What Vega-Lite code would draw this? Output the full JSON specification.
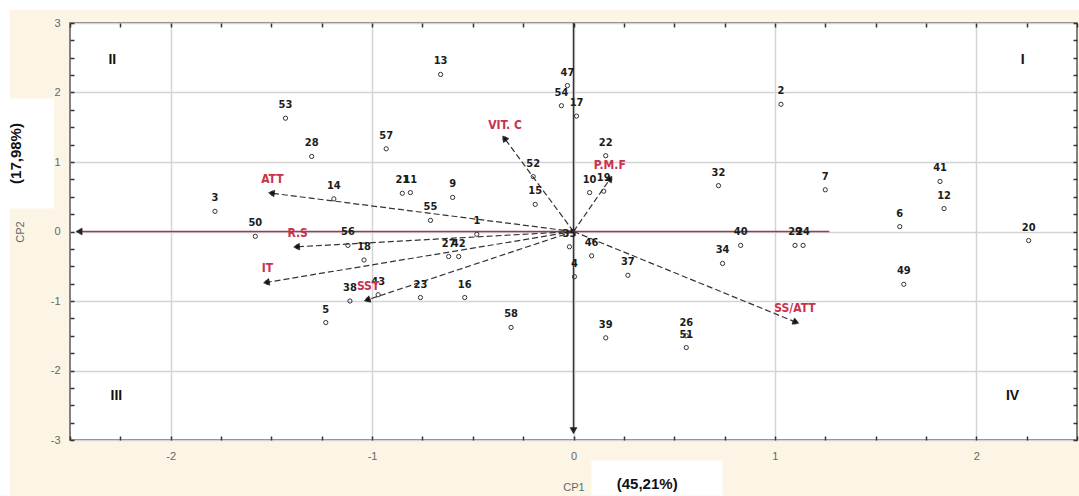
{
  "$schema": "https://vega.github.io/schema/vega-lite/v6.json",
  "width": 1007,
  "height": 417,
  "autosize": {"type": "none"},
  "padding": {"left": 70, "top": 23, "right": 2, "bottom": 56},
  "background": "#FCF5E6",
  "config": {
    "view": {"fill": "white", "stroke": "#5a5a5a", "strokeWidth": 1.5},
    "axis": {"domain": false}
  },
  "datasets": {
    "obs": [
      {"id": "53", "x": -1.43, "y": 1.63},
      {"id": "28", "x": -1.30, "y": 1.08},
      {"id": "3", "x": -1.78, "y": 0.29},
      {"id": "50", "x": -1.58, "y": -0.07},
      {"id": "14", "x": -1.19, "y": 0.47},
      {"id": "57", "x": -0.93, "y": 1.19},
      {"id": "21", "x": -0.85, "y": 0.55},
      {"id": "11", "x": -0.81, "y": 0.56},
      {"id": "9", "x": -0.60, "y": 0.49},
      {"id": "55", "x": -0.71, "y": 0.16},
      {"id": "13", "x": -0.66, "y": 2.26},
      {"id": "52", "x": -0.20, "y": 0.79},
      {"id": "15", "x": -0.19, "y": 0.39},
      {"id": "47", "x": -0.03, "y": 2.10},
      {"id": "54", "x": -0.06, "y": 1.81},
      {"id": "17", "x": 0.015, "y": 1.66},
      {"id": "22", "x": 0.16, "y": 1.09},
      {"id": "10", "x": 0.08, "y": 0.56},
      {"id": "19", "x": 0.15, "y": 0.58},
      {"id": "2", "x": 1.03, "y": 1.83},
      {"id": "32", "x": 0.72, "y": 0.66},
      {"id": "7", "x": 1.25, "y": 0.60},
      {"id": "41", "x": 1.82, "y": 0.72},
      {"id": "12", "x": 1.84, "y": 0.33},
      {"id": "6", "x": 1.62, "y": 0.07},
      {"id": "20", "x": 2.26, "y": -0.13},
      {"id": "40", "x": 0.83, "y": -0.20},
      {"id": "29", "x": 1.10, "y": -0.20},
      {"id": "24", "x": 1.14, "y": -0.20},
      {"id": "34", "x": 0.74, "y": -0.46},
      {"id": "37", "x": 0.27, "y": -0.63},
      {"id": "49", "x": 1.64, "y": -0.76},
      {"id": "39", "x": 0.16, "y": -1.53},
      {"id": "26", "x": 0.56, "y": -1.50},
      {"id": "51", "x": 0.56, "y": -1.67},
      {"id": "58", "x": -0.31, "y": -1.38},
      {"id": "16", "x": -0.54, "y": -0.95},
      {"id": "23", "x": -0.76, "y": -0.95},
      {"id": "38", "x": -1.11, "y": -1.0},
      {"id": "43", "x": -0.97, "y": -0.91},
      {"id": "5", "x": -1.23, "y": -1.31},
      {"id": "18", "x": -1.04, "y": -0.41},
      {"id": "56", "x": -1.12, "y": -0.20},
      {"id": "27", "x": -0.62, "y": -0.36},
      {"id": "42", "x": -0.57, "y": -0.36},
      {"id": "35", "x": -0.02, "y": -0.22},
      {"id": "46", "x": 0.09, "y": -0.35},
      {"id": "4", "x": 0.005, "y": -0.65},
      {"id": "1", "x": -0.48, "y": -0.04}
    ],
    "vars": [
      {"name": "ATT", "x": -1.495, "y": 0.55},
      {"name": "R.S", "x": -1.37, "y": -0.22},
      {"name": "IT", "x": -1.52, "y": -0.73},
      {"name": "SST", "x": -1.02, "y": -0.98},
      {"name": "VIT. C", "x": -0.34, "y": 1.33},
      {"name": "P.M.F", "x": 0.18, "y": 0.75},
      {"name": "SS/ATT", "x": 1.10, "y": -1.30}
    ],
    "axheads": [
      {"x": -2.45, "y": 0},
      {"x": 0, "y": -2.85}
    ],
    "quad": [
      {"t": "I", "x": 2.23, "y": 2.47},
      {"t": "II", "x": -2.29, "y": 2.47},
      {"t": "III", "x": -2.27, "y": -2.37},
      {"t": "IV", "x": 2.18, "y": -2.37}
    ],
    "boxes": [
      {"x1": -2.9, "x2": 2.6, "y1": 3.19, "y2": 3.4},
      {"x1": -2.9, "x2": -2.80, "y1": -3.8, "y2": 3.4},
      {"x1": -2.9, "x2": -2.579, "y1": 0.331, "y2": 1.914},
      {"x1": 0.089, "x2": 0.74, "y1": -3.8, "y2": -3.295}
    ]
  },
  "resolve": {"axis": {"x": "independent", "y": "independent"}},
  "layer": [
    {
      "data": {"name": "boxes"},
      "mark": {"type": "rect", "fill": "white"},
      "encoding": {
        "x": {"field": "x1", "type": "quantitative", "scale": {"domain": [-2.5, 2.5], "nice": false, "zero": false}, "axis": null},
        "x2": {"field": "x2"},
        "y": {"field": "y1", "type": "quantitative", "scale": {"domain": [-3, 3], "nice": false, "zero": false}, "axis": null},
        "y2": {"field": "y2"}
      }
    },
    {
      "data": {"name": "obs"},
      "mark": {"type": "point", "opacity": 0},
      "encoding": {
        "x": {"field": "x", "type": "quantitative", "axis": {
          "orient": "top", "labels": false, "title": null, "grid": false,
          "values": [-2.5,-2.25,-2,-1.75,-1.5,-1.25,-1,-0.75,-0.5,-0.25,0,0.25,0.5,0.75,1,1.25,1.5,1.75,2,2.25,2.5],
          "tickSize": -4, "tickColor": "#333", "tickWidth": 1.5
        }},
        "y": {"field": "y", "type": "quantitative", "axis": {
          "orient": "right", "labels": false, "title": null, "grid": false,
          "values": [-3,-2.75,-2.5,-2.25,-2,-1.75,-1.5,-1.25,-1,-0.75,-0.5,-0.25,0,0.25,0.5,0.75,1,1.25,1.5,1.75,2,2.25,2.5,2.75,3],
          "tickSize": -4, "tickColor": "#333", "tickWidth": 1.5
        }}
      }
    },
    {
      "data": {"values": [{"x": -2.45, "x2": 1.27, "y": 0}]},
      "mark": {"type": "rule", "color": "#8E4154", "strokeWidth": 1.6},
      "encoding": {
        "x": {"field": "x", "type": "quantitative", "axis": null},
        "x2": {"field": "x2"},
        "y": {"field": "y", "type": "quantitative", "axis": null}
      }
    },
    {
      "data": {"values": [{"x": 0, "y": 3, "y2": -2.85}]},
      "mark": {"type": "rule", "color": "#333333", "strokeWidth": 1.5},
      "encoding": {
        "x": {"field": "x", "type": "quantitative", "axis": null},
        "y": {"field": "y", "type": "quantitative", "axis": null},
        "y2": {"field": "y2"}
      }
    },
    {
      "data": {"name": "vars"},
      "transform": [{"calculate": "0", "as": "o"}],
      "mark": {"type": "rule", "color": "#333333", "strokeWidth": 1.2, "strokeDash": [6, 3]},
      "encoding": {
        "x": {"field": "o", "type": "quantitative", "axis": null},
        "y": {"field": "o", "type": "quantitative", "axis": null},
        "x2": {"field": "x"},
        "y2": {"field": "y"}
      }
    },
    {
      "data": {"name": "vars"},
      "transform": [{"calculate": "atan2(datum.x*202, datum.y*69.5)*180/PI", "as": "ang"}],
      "mark": {"type": "point", "shape": "triangle", "filled": true, "fill": "#111111", "stroke": "#111111", "strokeWidth": 0.5, "size": 45, "opacity": 1},
      "encoding": {
        "x": {"field": "x", "type": "quantitative", "axis": null},
        "y": {"field": "y", "type": "quantitative", "axis": null},
        "angle": {"field": "ang", "type": "quantitative", "scale": null}
      }
    },
    {
      "data": {"name": "axheads"},
      "transform": [{"calculate": "atan2(datum.x*202, datum.y*69.5)*180/PI", "as": "ang"}],
      "mark": {"type": "point", "shape": "triangle", "filled": true, "fill": "#222222", "stroke": "#222222", "strokeWidth": 0.5, "size": 50, "opacity": 1},
      "encoding": {
        "x": {"field": "x", "type": "quantitative", "axis": null},
        "y": {"field": "y", "type": "quantitative", "axis": null},
        "angle": {"field": "ang", "type": "quantitative", "scale": null}
      }
    },
    {
      "data": {"name": "obs"},
      "mark": {"type": "point", "filled": false, "color": "#333333", "strokeWidth": 1, "size": 18, "opacity": 1},
      "encoding": {
        "x": {"field": "x", "type": "quantitative", "axis": {
          "orient": "bottom", "title": "CP1",
          "values": [-2.5,-2.25,-2,-1.75,-1.5,-1.25,-1,-0.75,-0.5,-0.25,0,0.25,0.5,0.75,1,1.25,1.5,1.75,2,2.25,2.5],
          "labelExpr": "datum.value % 1 === 0 ? '' + datum.value : ''",
          "grid": true, "gridColor": "#d4d4d4", "gridWidth": 1.5,
          "gridOpacity": {"condition": {"test": "datum.value % 1 === 0", "value": 1}, "value": 0},
          "tickSize": -4, "tickColor": "#333", "tickWidth": 1.5,
          "labelPadding": 14, "labelFont": "Liberation Sans", "labelFontSize": 11, "labelColor": "#666",
          "titleFont": "Liberation Sans", "titleFontSize": 11, "titleFontWeight": "normal", "titleColor": "#666", "titlePadding": 20
        }},
        "y": {"field": "y", "type": "quantitative", "axis": {
          "orient": "left", "title": "CP2",
          "values": [-3,-2.75,-2.5,-2.25,-2,-1.75,-1.5,-1.25,-1,-0.75,-0.5,-0.25,0,0.25,0.5,0.75,1,1.25,1.5,1.75,2,2.25,2.5,2.75,3],
          "labelExpr": "datum.value % 1 === 0 ? '' + datum.value : ''",
          "grid": true, "gridColor": "#d4d4d4", "gridWidth": 1.5,
          "gridOpacity": {"condition": {"test": "datum.value % 1 === 0", "value": 1}, "value": 0},
          "tickSize": -4, "tickColor": "#333", "tickWidth": 1.5,
          "labelPadding": 14, "labelFont": "Liberation Sans", "labelFontSize": 11, "labelColor": "#666",
          "titleFont": "Liberation Sans", "titleFontSize": 11, "titleFontWeight": "normal", "titleColor": "#666", "titlePadding": 25
        }}
      }
    },
    {
      "data": {"name": "vars"},
      "mark": {"type": "point", "filled": false, "color": "#333333", "strokeWidth": 1, "size": 18, "opacity": 1},
      "encoding": {
        "x": {"field": "x", "type": "quantitative", "axis": null},
        "y": {"field": "y", "type": "quantitative", "axis": null}
      }
    },
    {
      "data": {"name": "obs"},
      "mark": {"type": "text", "font": "DejaVu Sans Condensed", "fontWeight": "bold", "fontSize": 11, "color": "#1c1c1c", "dy": -13, "baseline": "middle"},
      "encoding": {
        "x": {"field": "x", "type": "quantitative", "axis": null},
        "y": {"field": "y", "type": "quantitative", "axis": null},
        "text": {"field": "id"}
      }
    },
    {
      "data": {"name": "vars"},
      "mark": {"type": "text", "font": "DejaVu Sans Condensed", "fontWeight": "bold", "fontSize": 12, "color": "#C8324E", "dy": -14, "baseline": "middle"},
      "encoding": {
        "x": {"field": "x", "type": "quantitative", "axis": null},
        "y": {"field": "y", "type": "quantitative", "axis": null},
        "text": {"field": "name"}
      }
    },
    {
      "data": {"name": "quad"},
      "mark": {"type": "text", "font": "Liberation Sans", "fontWeight": "bold", "fontSize": 14, "color": "#111111", "baseline": "middle"},
      "encoding": {
        "x": {"field": "x", "type": "quantitative", "axis": null},
        "y": {"field": "y", "type": "quantitative", "axis": null},
        "text": {"field": "t"}
      }
    },
    {
      "data": {"values": [{"t": "(17,98%)", "x": -2.767, "y": 1.122}]},
      "mark": {"type": "text", "font": "Liberation Sans", "fontWeight": "bold", "fontSize": 15, "color": "#111111", "angle": 270, "baseline": "middle"},
      "encoding": {
        "x": {"field": "x", "type": "quantitative", "axis": null},
        "y": {"field": "y", "type": "quantitative", "axis": null},
        "text": {"field": "t"}
      }
    },
    {
      "data": {"values": [{"t": "(45,21%)", "x": 0.366, "y": -3.64}]},
      "mark": {"type": "text", "font": "Liberation Sans", "fontWeight": "bold", "fontSize": 15, "color": "#111111", "baseline": "middle"},
      "encoding": {
        "x": {"field": "x", "type": "quantitative", "axis": null},
        "y": {"field": "y", "type": "quantitative", "axis": null},
        "text": {"field": "t"}
      }
    }
  ]
}
